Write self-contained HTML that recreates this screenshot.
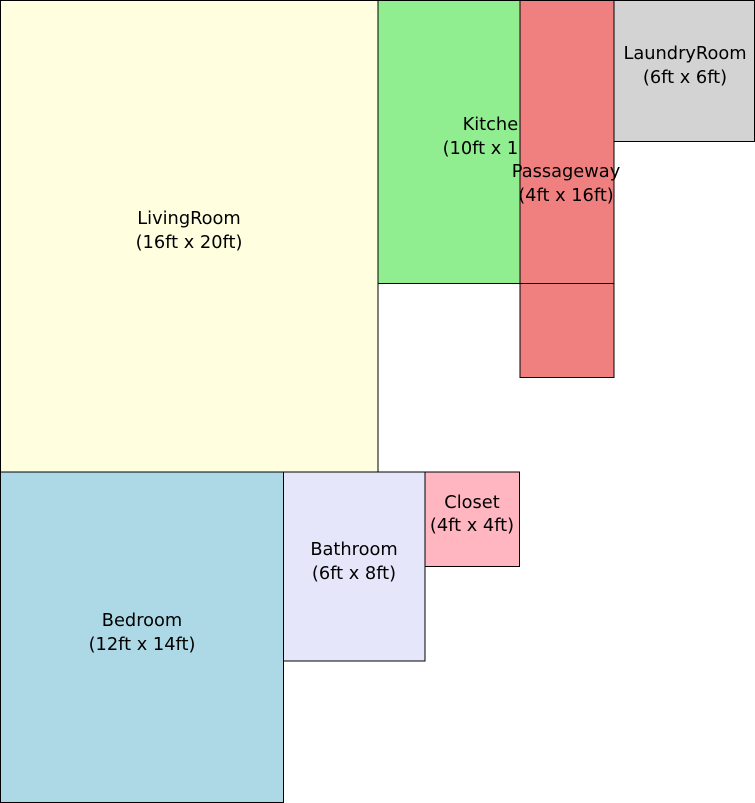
<!DOCTYPE html>
<html><head><meta charset="utf-8"><style>
html,body{margin:0;padding:0;background:#fff;}
svg{display:block;}
text{font-family:"DejaVu Sans","Liberation Sans",sans-serif;font-size:17.8px;fill:#000;text-anchor:middle;}
</style></head><body>
<svg width="755" height="803" viewBox="0 0 755 803" xmlns="http://www.w3.org/2000/svg">
<defs><clipPath id="kc"><rect x="378" y="0" width="142" height="284"/></clipPath></defs>
<g stroke="#000" stroke-width="1">
<rect x="0.5" y="0.5" width="377.5" height="471.5" fill="#ffffe0"/>
<rect x="378" y="0.5" width="142" height="283" fill="#90ee90"/>
<rect x="614" y="0.5" width="140.5" height="141" fill="#d3d3d3"/>
<rect x="0.5" y="472" width="283" height="330.5" fill="#add8e6"/>
<rect x="283.5" y="472" width="141.5" height="189" fill="#e6e6fa"/>
<rect x="425" y="472" width="94.5" height="94.5" fill="#ffb6c1"/>
</g>
<g clip-path="url(#kc)">
<text x="496" y="130">Kitchen</text>
<text x="496" y="154">(10ft x 12ft)</text>
</g>
<rect x="520" y="0.5" width="94" height="377" fill="#f08080" stroke="#000"/>
<line x1="520" y1="283.5" x2="614" y2="283.5" stroke="#000"/>
<text x="189" y="224">LivingRoom</text>
<text x="189" y="248">(16ft x 20ft)</text>
<text x="566" y="177">Passageway</text>
<text x="566" y="201">(4ft x 16ft)</text>
<text x="685" y="59">LaundryRoom</text>
<text x="685" y="83">(6ft x 6ft)</text>
<text x="142" y="626">Bedroom</text>
<text x="142" y="650">(12ft x 14ft)</text>
<text x="354" y="555">Bathroom</text>
<text x="354" y="579">(6ft x 8ft)</text>
<text x="472" y="508">Closet</text>
<text x="472" y="531">(4ft x 4ft)</text>
</svg>
</body></html>
